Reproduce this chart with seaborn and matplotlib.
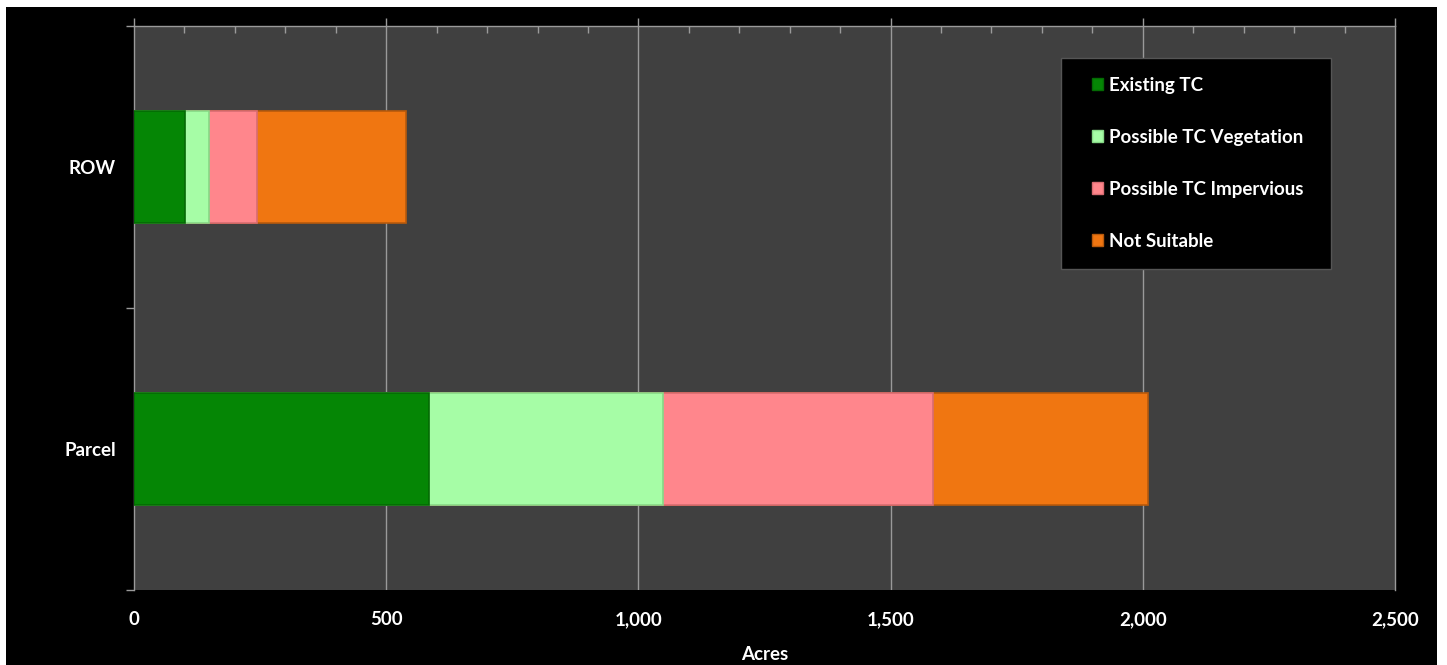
import matplotlib
matplotlib.use("Agg")
import matplotlib.pyplot as plt
import matplotlib.patches as mpatches
from matplotlib.ticker import MultipleLocator, FuncFormatter, FixedLocator
import seaborn as sns
import pandas as pd
import numpy as np

categories = ["ROW", "Parcel"]
series = ["Existing TC", "Possible TC Vegetation", "Possible TC Impervious", "Not Suitable"]
existing_tc = [101, 585]
possible_veg = [48, 464]
possible_imp = [95, 535]
not_suitable = [295, 426]
colors = ["#058605", "#a6fda6", "#ff868c", "#f07611"]
edges = ["#046a04", "#86d886", "#d86c72", "#b85a0c"]

sns.set_theme(style="dark")
plt.rcParams["font.family"] = ["Lato", "DejaVu Sans"]
plt.rcParams["font.weight"] = "bold"
FS = 13.5

fig = plt.figure(figsize=(14.47, 6.65), dpi=100, facecolor="white")
fig.patches.append(mpatches.Rectangle((6 / 1447, 0), (1437 - 6) / 1447, (665 - 7) / 665,
                                      transform=fig.transFigure, facecolor="black",
                                      edgecolor="none", zorder=-5))
W, H = 1447, 665
ax = fig.add_axes([134 / W, (H - 590) / H, (1395 - 134) / W, (590 - 26) / H])
ax.set_zorder(2)
ax.set_facecolor("#404040")

vals = np.array([existing_tc, possible_veg, possible_imp, not_suitable], dtype=float)
cums = np.cumsum(vals, axis=0)
for i in range(len(series) - 1, -1, -1):
    df = pd.DataFrame({"cat": categories, "val": cums[i]})
    sns.barplot(data=df, x="val", y="cat", orient="h", color=colors[i], ax=ax,
                width=0.4, edgecolor=edges[i], linewidth=1.2, label=series[i],
                saturation=1, zorder=3)

ax.set_xlim(0, 2500)
ax.set_ylim(1.5, -0.5)
ax.xaxis.set_major_locator(MultipleLocator(500))
ax.xaxis.set_minor_locator(MultipleLocator(100))
ax.xaxis.set_major_formatter(FuncFormatter(lambda v, p: f"{int(v):,}"))
ax.grid(False)
for x in range(500, 2500, 500):
    ax.axvline(x, color="#9a9a9a", linewidth=1, zorder=1)

ax.tick_params(axis="x", which="both", bottom=False, top=True, labelbottom=True,
               labeltop=False, colors="#9a9a9a", labelcolor="white", labelsize=FS, pad=9)
ax.tick_params(axis="x", which="major", direction="out", length=6, width=1)
ax.tick_params(axis="x", which="minor", direction="in", length=5, width=1)

ax.yaxis.set_minor_locator(FixedLocator([-0.5, 0.5, 1.5]))
ax.tick_params(axis="y", which="major", length=0, labelcolor="white", labelsize=FS, pad=13)
ax.tick_params(axis="y", which="minor", left=True, direction="out", length=6, width=1,
               color="#9a9a9a")

for s in ["left", "top", "right"]:
    ax.spines[s].set_visible(True)
    ax.spines[s].set_color("#9a9a9a")
    ax.spines[s].set_linewidth(1)
ax.spines["bottom"].set_visible(False)

for lab in ax.get_xticklabels() + ax.get_yticklabels():
    lab.set_fontweight("bold")

ax.set_ylabel("")
ax.set_xlabel("Acres", color="white", fontsize=FS, fontweight="bold")
ax.xaxis.set_label_coords(0.5, (590 - 655) / 564)
ax.xaxis.label.set_va("center")

# legend box
ax.add_patch(mpatches.Rectangle(((1061 - 134) / 1261, (590 - 269) / 564),
                                (1331 - 1061) / 1261, (269 - 58) / 564,
                                transform=ax.transAxes, facecolor="black",
                                edgecolor="#555555", linewidth=1, zorder=5))
handles = [mpatches.Patch(facecolor=colors[i], edgecolor=edges[i], label=series[i])
           for i in range(len(series))]
leg = ax.legend(handles=handles, loc="upper left",
                bbox_to_anchor=((1092 - 134) / 1261, (590 - 77) / 564),
                frameon=False, fontsize=FS, labelcolor="white",
                handlelength=0.6, handleheight=0.6, handletextpad=0.3,
                labelspacing=1.86, borderpad=0, borderaxespad=0)
leg.set_zorder(6)
for t in leg.get_texts():
    t.set_fontweight("bold")

fig.savefig("out.png", dpi=100, facecolor="white")
